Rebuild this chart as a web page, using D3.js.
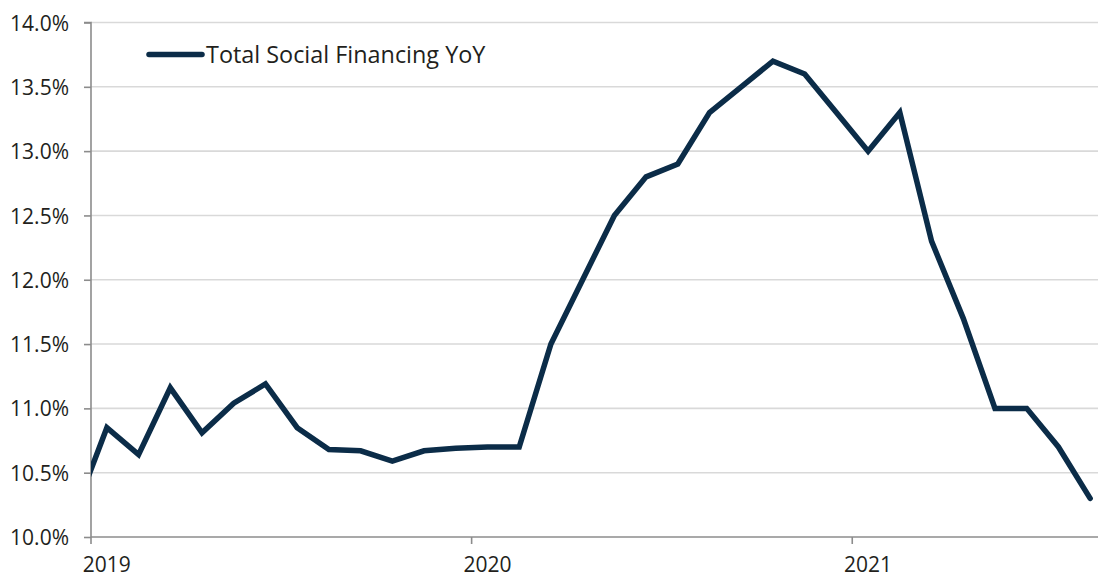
<!DOCTYPE html>
<html>
<head>
<meta charset="utf-8">
<script src="https://cdn.jsdelivr.net/npm/d3@7/dist/d3.min.js"></script>
<style>
  html, body { margin: 0; padding: 0; background: #ffffff; }
  svg { display: block; }
  text { font-family: "Open Sans", "Noto Sans", sans-serif; fill: #231f1c; }
</style>
</head>
<body>
<svg id="chart" width="1098" height="578"></svg>
<script>
// Monthly observations (Dec 2018 is drawn but falls outside the plot's left edge)
const months = [
  "2018-12",
  "2019-01", "2019-02", "2019-03", "2019-04", "2019-05", "2019-06",
  "2019-07", "2019-08", "2019-09", "2019-10", "2019-11", "2019-12",
  "2020-01", "2020-02", "2020-03", "2020-04", "2020-05", "2020-06",
  "2020-07", "2020-08", "2020-09", "2020-10", "2020-11", "2020-12",
  "2021-01", "2021-02", "2021-03", "2021-04", "2021-05", "2021-06",
  "2021-07", "2021-08"
];
const tsfYoY = [
  10.20,
  10.85, 10.64, 11.16, 10.81, 11.04, 11.19,
  10.85, 10.68, 10.67, 10.59, 10.67, 10.69,
  10.70, 10.70, 11.50, 12.00, 12.50, 12.80,
  12.90, 13.30, 13.50, 13.70, 13.60, 13.30,
  13.00, 13.30, 12.30, 11.70, 11.00, 11.00,
  10.70, 10.30
];
const yTicks = [10.0, 10.5, 11.0, 11.5, 12.0, 12.5, 13.0, 13.5, 14.0];
const yearLabels = ["2019", "2020", "2021"];
const seriesName = "Total Social Financing YoY";

(function draw() {
  const svg = d3.select("#chart");
  const W = 1098, H = 578;
  const plotLeft = 91, plotTop = 22.5, plotBottom = 537, plotRight = W;

  // Month index relative to Jan 2019; each month occupies one unit, points sit mid-month
  const monthIndex = m => {
    const [yr, mo] = m.split("-").map(Number);
    return (yr - 2019) * 12 + (mo - 1);
  };
  const x = d3.scaleLinear().domain([0, 32]).range([plotLeft, 1106]);
  const y = d3.scaleLinear().domain([10, 14]).range([plotBottom, plotTop]);

  // Gridlines
  svg.append("g")
    .selectAll("line")
    .data(yTicks.filter(t => t > 10))
    .join("line")
    .attr("x1", plotLeft).attr("x2", plotRight)
    .attr("y1", d => y(d)).attr("y2", d => y(d))
    .attr("stroke", "#d9d9d9")
    .attr("stroke-width", 1.6);

  // Y axis
  const yAxis = d3.axisLeft(y)
    .tickValues(yTicks)
    .tickFormat(d => d.toFixed(1) + "%")
    .tickSize(7)
    .tickPadding(15);
  const gy = svg.append("g").attr("transform", `translate(${plotLeft},0)`).call(yAxis);
  gy.select(".domain").attr("stroke", "#8c8c8c").attr("stroke-width", 1.6)
    .attr("d", `M-7,${y(14)}H0V${y(10)}`);
  gy.selectAll(".tick line").attr("stroke", "#8c8c8c").attr("stroke-width", 1.6);
  gy.selectAll(".tick text")
    .attr("font-size", 21)
    .attr("font-family", "'Open Sans', 'Noto Sans', sans-serif")
    .attr("fill", "#231f1c")
    .attr("dy", "0.36em");

  // X axis: ticks at year boundaries, labels centred on January
  const gx = svg.append("g").attr("transform", `translate(0,${plotBottom})`);
  gx.append("line")
    .attr("x1", plotLeft).attr("x2", plotRight)
    .attr("y1", 0).attr("y2", 0)
    .attr("stroke", "#8c8c8c").attr("stroke-width", 1.6);
  gx.selectAll("line.tick")
    .data(yearLabels)
    .join("line")
    .attr("class", "tick")
    .attr("x1", (d, i) => x(i * 12)).attr("x2", (d, i) => x(i * 12))
    .attr("y1", 0).attr("y2", 7)
    .attr("stroke", "#8c8c8c").attr("stroke-width", 1.6);
  gx.selectAll("text")
    .data(yearLabels)
    .join("text")
    .attr("x", (d, i) => x(i * 12 + 0.5))
    .attr("y", 35)
    .attr("text-anchor", "middle")
    .attr("font-size", 21)
    .text(d => d);

  // Series line, clipped to the plot area
  svg.append("clipPath").attr("id", "plot-clip")
    .append("rect")
    .attr("x", plotLeft).attr("y", 0)
    .attr("width", plotRight - plotLeft).attr("height", H);

  const pts = months.map((m, i) => ({ i: monthIndex(m), v: tsfYoY[i] }));
  const line = d3.line().x(d => x(d.i + 0.5)).y(d => y(d.v));
  svg.append("path")
    .datum(pts)
    .attr("clip-path", "url(#plot-clip)")
    .attr("d", line)
    .attr("fill", "none")
    .attr("stroke", "#0b2c48")
    .attr("stroke-width", 5.5)
    .attr("stroke-linejoin", "miter")
    .attr("stroke-linecap", "round");

  // Legend
  const lg = svg.append("g");
  lg.append("line")
    .attr("x1", 149).attr("x2", 202)
    .attr("y1", 54.5).attr("y2", 54.5)
    .attr("stroke", "#0b2c48")
    .attr("stroke-width", 5.5)
    .attr("stroke-linecap", "round");
  lg.append("text")
    .attr("x", 206).attr("y", 62.5)
    .attr("font-size", 23.4)
    .text(seriesName);
})();
</script>
</body>
</html>
